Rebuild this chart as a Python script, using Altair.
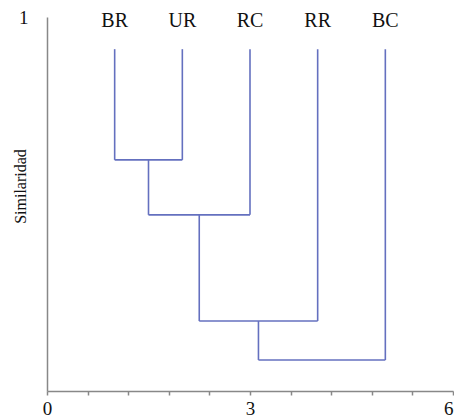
import altair as alt
import pandas as pd

# Leaves of the dendrogram (left to right) and their x positions
leaves = ["BR", "UR", "RC", "RR", "BC"]
leaf_x = [1, 2, 3, 4, 5]
leaf_top = 0.914          # similarity value where leaf branches start
label_y = 0.989           # where leaf names sit

# Agglomeration steps: (cluster a, cluster b, merge height)
# clusters 0-4 are leaves, 5.. are newly formed clusters
merge_a = [0, 5, 6, 7]
merge_b = [1, 2, 3, 4]
merge_h = [0.618, 0.471, 0.187, 0.083]

x_ticks = [0, 0.6, 1.2, 1.8, 2.4, 3, 3.6, 4.2, 4.8, 5.4, 6]

# Build segments from the tree
pos = {i: leaf_x[i] for i in range(len(leaves))}
top = {i: leaf_top for i in range(len(leaves))}
segs = []
for k, (a, b, h) in enumerate(zip(merge_a, merge_b, merge_h)):
    new = len(leaves) + k
    segs.append(dict(x=pos[a], x2=pos[a], y=top[a], y2=h))
    segs.append(dict(x=pos[b], x2=pos[b], y=top[b], y2=h))
    segs.append(dict(x=pos[a], x2=pos[b], y=h, y2=h))
    pos[new] = (pos[a] + pos[b]) / 2
    top[new] = h
seg_df = pd.DataFrame(segs)
lab_df = pd.DataFrame({"x": leaf_x, "y": [label_y] * len(leaves), "name": leaves})

serif = "Liberation Serif"
xscale = alt.Scale(domain=[0, 6], nice=False, zero=False)
yscale = alt.Scale(domain=[0, 1], nice=False)

lines = alt.Chart(seg_df).mark_rule(color="#6470bf", strokeWidth=1.6).encode(
    x=alt.X("x:Q", scale=xscale, axis=alt.Axis(
        values=x_ticks, title=None, grid=False,
        labelExpr="datum.value == 0 || datum.value == 3 || datum.value == 6 ? datum.value : ''",
        labelAlign=alt.expr("datum.value == 6 ? 'right' : 'center'"),
        labelFont=serif, labelFontSize=19, labelColor="#111", labelPadding=4,
        tickSize=4, tickColor="#888", tickWidth=1.5,
        domainColor="#888", domainWidth=1.5, labelFlush=False)),
    x2="x2:Q",
    y=alt.Y("y:Q", scale=yscale, axis=alt.Axis(
        values=[1], ticks=False, grid=False, title="Similaridad", format="d",
        labelFont=serif, labelFontSize=19, labelColor="#111", labelPadding=19,
        domainColor="#888", domainWidth=1.5,
        titleFont=serif, titleFontSize=16, titleFontWeight="normal", titleColor="#111",
        titleX=-27, titleY=169, titleBaseline="middle", titleAngle=270)),
    y2="y2:Q",
)

labels = alt.Chart(lab_df).mark_text(font=serif, fontSize=20, color="#111", baseline="middle").encode(
    x=alt.X("x:Q", scale=xscale), y=alt.Y("y:Q", scale=yscale), text="name:N"
)

chart = (lines + labels).properties(
    width=406, height=374,
    autosize=alt.AutoSizeParams(type="none"),
    padding={"left": 39, "top": 9, "right": 1, "bottom": 25},
).configure_view(stroke=None)

chart.save("out.html", embed_options={"renderer": "svg", "actions": False})
